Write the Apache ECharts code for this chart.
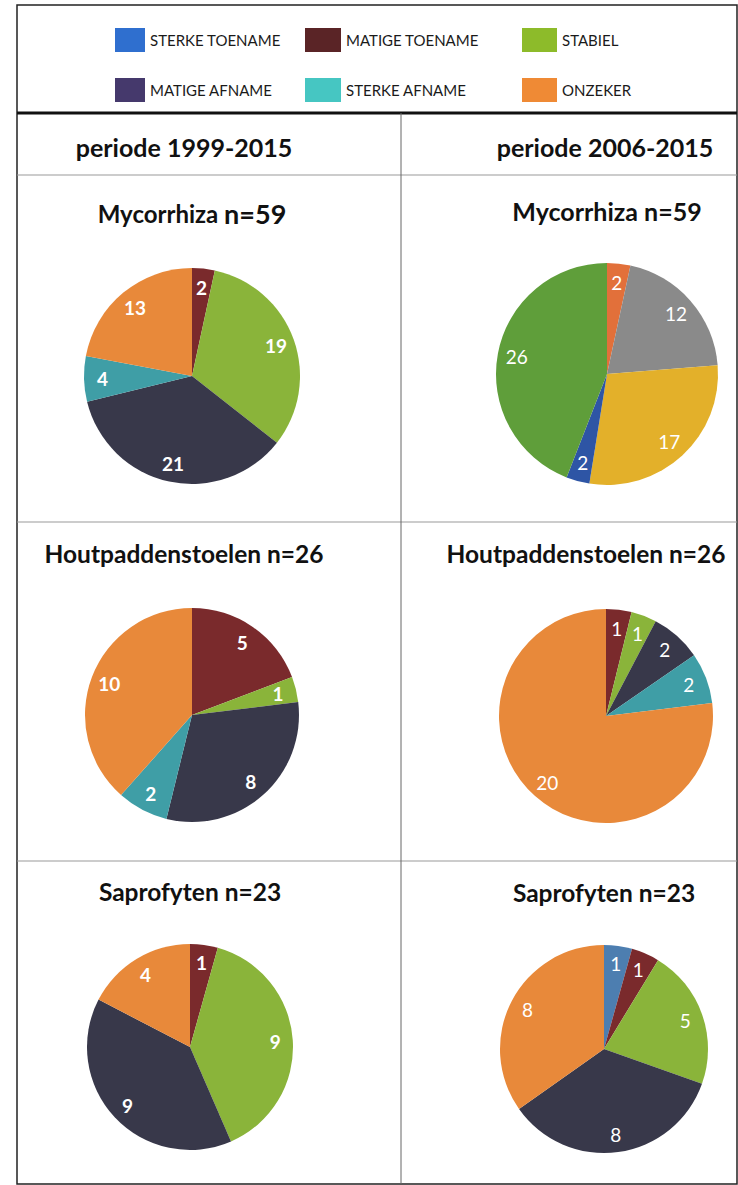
<!DOCTYPE html>
<html>
<head>
<meta charset="utf-8">
<script src="https://cdn.jsdelivr.net/npm/echarts@6/dist/echarts.min.js"></script>
<style>
html, body { margin: 0; padding: 0; background: #fff; }
#chart { width: 738px; height: 1185px; }
</style>
</head>
<body>
<div id="chart"></div>
<script>
// categories as in the legend
var categories = ['STERKE TOENAME', 'MATIGE TOENAME', 'STABIEL', 'MATIGE AFNAME', 'STERKE AFNAME', 'ONZEKER'];
var periods = ['periode 1999-2015', 'periode 2006-2015'];
var groups = ['Mycorrhiza', 'Houtpaddenstoelen', 'Saprofyten'];
var groupN = [59, 26, 23];

// number of species per category
var myco9915 = [0, 2, 19, 21, 4, 13];
var myco0615 = [0, 2, 12, 17, 2, 26];
var hout9915 = [0, 5, 1, 8, 2, 10];
var hout0615 = [0, 1, 1, 2, 2, 20];
var sapro9915 = [0, 1, 9, 9, 0, 4];
var sapro0615 = [1, 1, 5, 8, 0, 8];

var legendColors = ['#2f6fcf', '#5a2426', '#8dbb2a', '#45396c', '#46c6c2', '#ef8a35'];
var pieColors = ['#4d7eb0', '#7a2a2c', '#8ab43a', '#38384a', '#3f9ea6', '#e8893a'];
// the 2006-2015 mycorrhiza pie was drawn with another palette
var mycoColors = ['#5b9bd5', '#e2703a', '#8a8a8a', '#e3b02a', '#2e55a5', '#5f9e3a'];

var font = 'Lato, "Open Sans", sans-serif';

function pieData(values, colors) {
	return categories.map(function (c, i) {
		return { name: c, value: values[i], itemStyle: { color: colors[i] } };
	});
}

function pie(values, colors, center, r, bold) {
	var main = {
		type: 'pie',
		center: center,
		radius: r,
		startAngle: 90,
		clockwise: true,
		silent: true,
		label: { show: false },
		labelLine: { show: false },
		itemStyle: { borderWidth: 0 },
		emphasis: { disabled: true },
		data: pieData(values, colors)
	};
	// transparent ring, only used to put the numbers at ~0.8 r
	var labels = {
		type: 'pie',
		center: center,
		radius: [r * 0.6, r],
		startAngle: 90,
		clockwise: true,
		silent: true,
		itemStyle: { color: 'transparent', borderWidth: 0 },
		emphasis: { disabled: true },
		labelLine: { show: false },
		label: {
			show: true,
			position: 'inside',
			color: '#fff',
			fontFamily: font,
			fontSize: 19,
			fontWeight: bold ? 'bold' : 'normal',
			formatter: function (p) { return p.value ? String(p.value) : ''; }
		},
		data: categories.map(function (c, i) { return { name: c, value: values[i] }; })
	};
	return [main, labels];
}

function legendCol(names, left, w) {
	return {
		orient: 'vertical',
		left: left,
		top: 23,
		itemWidth: w,
		itemHeight: 24,
		itemGap: 26,
		icon: 'rect',
		selectedMode: false,
		textStyle: { fontFamily: font, fontSize: 15, color: '#1a1a1a' },
		data: names.map(function (n) {
			return { name: n, itemStyle: { color: legendColors[categories.indexOf(n)] } };
		})
	};
}

function title(txt, x, y, size, rich) {
	return {
		type: 'text',
		x: x,
		y: y,
		style: {
			text: txt,
			align: 'center',
			verticalAlign: 'middle',
			font: 'bold ' + size + 'px ' + font,
			fill: '#111',
			rich: rich
		}
	};
}

function hline(y, w, color) {
	return { type: 'line', shape: { x1: 17, y1: y, x2: 737, y2: y }, style: { stroke: color, lineWidth: w } };
}

var chart = echarts.init(document.getElementById('chart'), null, { renderer: 'svg' });

var series = [].concat(
	pie(myco9915, pieColors, [192, 376], 108, true),
	pie(myco0615, mycoColors, [607, 374], 111, false),
	pie(hout9915, pieColors, [192, 715], 107, true),
	pie(hout0615, pieColors, [606, 716], 107, false),
	pie(sapro9915, pieColors, [190, 1047], 103, true),
	pie(sapro0615, pieColors, [604, 1049], 104, false)
);

var option = {
	backgroundColor: '#fff',
	animation: false,
	legend: [
		legendCol([categories[0], categories[3]], 110, 30),
		legendCol([categories[1], categories[4]], 300, 36),
		legendCol([categories[2], categories[5]], 517, 35)
	],
	graphic: [
		{ type: 'rect', shape: { x: 17, y: 5, width: 720, height: 1179 }, style: { fill: 'none', stroke: '#222', lineWidth: 1.5 } },
		hline(113, 3, '#111'),
		hline(175, 1, '#999'),
		hline(522, 1, '#999'),
		hline(861, 1, '#999'),
		{ type: 'line', shape: { x1: 401, y1: 113, x2: 401, y2: 1184 }, style: { stroke: '#666', lineWidth: 1 } },
		title(periods[0], 184, 147, 25),
		title(periods[1], 605, 147, 25),
		title('{a|' + groups[0] + ' }{b|n=' + groupN[0] + '}', 192, 213, 24,
			{ a: { font: 'bold 24px ' + font, fill: '#111' }, b: { font: 'bold 27px ' + font, fill: '#111' } }),
		title(groups[0] + ' n=' + groupN[0], 607, 211, 25),
		title(groups[1] + ' n=' + groupN[1], 184, 553, 24.5),
		title(groups[1] + ' n=' + groupN[1], 586, 553, 24.5),
		title(groups[2] + ' n=' + groupN[2], 190, 891, 24.5),
		title(groups[2] + ' n=' + groupN[2], 604, 892, 24.5)
	],
	series: series
};

chart.setOption(option);
</script>
</body>
</html>
